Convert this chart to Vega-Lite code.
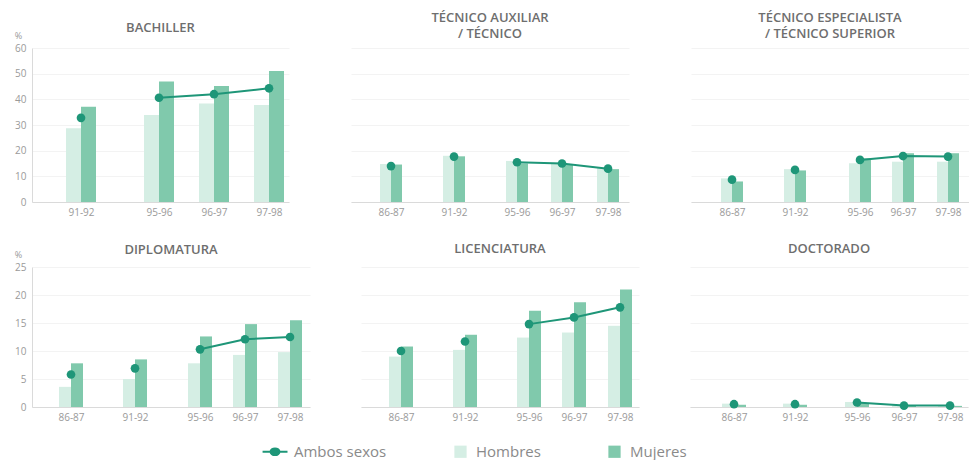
{
  "$schema": "https://vega.github.io/schema/vega-lite/v6.json",
  "autosize": {"type": "pad"},
  "padding": {"left": 14, "top": 12, "right": 0, "bottom": 0},
  "background": "white",
  "config": {
    "view": {"stroke": null},
    "font": "Open Sans",
    "title": {"font": "Open Sans", "fontSize": 13, "fontWeight": 600, "color": "#6e6e6e", "lineHeight": 16, "anchor": "middle"},
    "axis": {"labelFont": "Open Sans", "labelColor": "#9a9a9a", "labelFontSize": 10, "domainColor": "#dadada", "ticks": false, "gridColor": "#f3f3f3", "titleFont": "Open Sans"},
    "legend": {"labelFont": "Open Sans"}
  },
  "data": {"values": [
    {"nivel": "BACHILLER", "curso": "91-92", "inicio": 1991, "serie": "Hombres", "valor": 28.7},
    {"nivel": "BACHILLER", "curso": "91-92", "inicio": 1991, "serie": "Mujeres", "valor": 37.1},
    {"nivel": "BACHILLER", "curso": "91-92", "inicio": 1991, "serie": "Ambos sexos", "valor": 32.8},
    {"nivel": "BACHILLER", "curso": "95-96", "inicio": 1995, "serie": "Hombres", "valor": 33.9},
    {"nivel": "BACHILLER", "curso": "95-96", "inicio": 1995, "serie": "Mujeres", "valor": 46.9},
    {"nivel": "BACHILLER", "curso": "95-96", "inicio": 1995, "serie": "Ambos sexos", "valor": 40.6},
    {"nivel": "BACHILLER", "curso": "96-97", "inicio": 1996, "serie": "Hombres", "valor": 38.4},
    {"nivel": "BACHILLER", "curso": "96-97", "inicio": 1996, "serie": "Mujeres", "valor": 45.2},
    {"nivel": "BACHILLER", "curso": "96-97", "inicio": 1996, "serie": "Ambos sexos", "valor": 42.0},
    {"nivel": "BACHILLER", "curso": "97-98", "inicio": 1997, "serie": "Hombres", "valor": 37.8},
    {"nivel": "BACHILLER", "curso": "97-98", "inicio": 1997, "serie": "Mujeres", "valor": 51.0},
    {"nivel": "BACHILLER", "curso": "97-98", "inicio": 1997, "serie": "Ambos sexos", "valor": 44.3},

    {"nivel": "AUXILIAR", "curso": "86-87", "inicio": 1986, "serie": "Hombres", "valor": 14.8},
    {"nivel": "AUXILIAR", "curso": "86-87", "inicio": 1986, "serie": "Mujeres", "valor": 14.6},
    {"nivel": "AUXILIAR", "curso": "86-87", "inicio": 1986, "serie": "Ambos sexos", "valor": 14.0},
    {"nivel": "AUXILIAR", "curso": "91-92", "inicio": 1991, "serie": "Hombres", "valor": 18.0},
    {"nivel": "AUXILIAR", "curso": "91-92", "inicio": 1991, "serie": "Mujeres", "valor": 17.8},
    {"nivel": "AUXILIAR", "curso": "91-92", "inicio": 1991, "serie": "Ambos sexos", "valor": 17.7},
    {"nivel": "AUXILIAR", "curso": "95-96", "inicio": 1995, "serie": "Hombres", "valor": 16.0},
    {"nivel": "AUXILIAR", "curso": "95-96", "inicio": 1995, "serie": "Mujeres", "valor": 15.0},
    {"nivel": "AUXILIAR", "curso": "95-96", "inicio": 1995, "serie": "Ambos sexos", "valor": 15.5},
    {"nivel": "AUXILIAR", "curso": "96-97", "inicio": 1996, "serie": "Hombres", "valor": 15.3},
    {"nivel": "AUXILIAR", "curso": "96-97", "inicio": 1996, "serie": "Mujeres", "valor": 14.6},
    {"nivel": "AUXILIAR", "curso": "96-97", "inicio": 1996, "serie": "Ambos sexos", "valor": 15.0},
    {"nivel": "AUXILIAR", "curso": "97-98", "inicio": 1997, "serie": "Hombres", "valor": 13.2},
    {"nivel": "AUXILIAR", "curso": "97-98", "inicio": 1997, "serie": "Mujeres", "valor": 12.8},
    {"nivel": "AUXILIAR", "curso": "97-98", "inicio": 1997, "serie": "Ambos sexos", "valor": 13.0},

    {"nivel": "ESPECIALISTA", "curso": "86-87", "inicio": 1986, "serie": "Hombres", "valor": 9.2},
    {"nivel": "ESPECIALISTA", "curso": "86-87", "inicio": 1986, "serie": "Mujeres", "valor": 8.0},
    {"nivel": "ESPECIALISTA", "curso": "86-87", "inicio": 1986, "serie": "Ambos sexos", "valor": 8.7},
    {"nivel": "ESPECIALISTA", "curso": "91-92", "inicio": 1991, "serie": "Hombres", "valor": 12.8},
    {"nivel": "ESPECIALISTA", "curso": "91-92", "inicio": 1991, "serie": "Mujeres", "valor": 12.3},
    {"nivel": "ESPECIALISTA", "curso": "91-92", "inicio": 1991, "serie": "Ambos sexos", "valor": 12.5},
    {"nivel": "ESPECIALISTA", "curso": "95-96", "inicio": 1995, "serie": "Hombres", "valor": 15.1},
    {"nivel": "ESPECIALISTA", "curso": "95-96", "inicio": 1995, "serie": "Mujeres", "valor": 17.0},
    {"nivel": "ESPECIALISTA", "curso": "95-96", "inicio": 1995, "serie": "Ambos sexos", "valor": 16.4},
    {"nivel": "ESPECIALISTA", "curso": "96-97", "inicio": 1996, "serie": "Hombres", "valor": 15.7},
    {"nivel": "ESPECIALISTA", "curso": "96-97", "inicio": 1996, "serie": "Mujeres", "valor": 19.0},
    {"nivel": "ESPECIALISTA", "curso": "96-97", "inicio": 1996, "serie": "Ambos sexos", "valor": 17.9},
    {"nivel": "ESPECIALISTA", "curso": "97-98", "inicio": 1997, "serie": "Hombres", "valor": 15.7},
    {"nivel": "ESPECIALISTA", "curso": "97-98", "inicio": 1997, "serie": "Mujeres", "valor": 19.0},
    {"nivel": "ESPECIALISTA", "curso": "97-98", "inicio": 1997, "serie": "Ambos sexos", "valor": 17.7},

    {"nivel": "DIPLOMATURA", "curso": "86-87", "inicio": 1986, "serie": "Hombres", "valor": 3.6},
    {"nivel": "DIPLOMATURA", "curso": "86-87", "inicio": 1986, "serie": "Mujeres", "valor": 7.8},
    {"nivel": "DIPLOMATURA", "curso": "86-87", "inicio": 1986, "serie": "Ambos sexos", "valor": 5.8},
    {"nivel": "DIPLOMATURA", "curso": "91-92", "inicio": 1991, "serie": "Hombres", "valor": 5.0},
    {"nivel": "DIPLOMATURA", "curso": "91-92", "inicio": 1991, "serie": "Mujeres", "valor": 8.5},
    {"nivel": "DIPLOMATURA", "curso": "91-92", "inicio": 1991, "serie": "Ambos sexos", "valor": 6.9},
    {"nivel": "DIPLOMATURA", "curso": "95-96", "inicio": 1995, "serie": "Hombres", "valor": 7.8},
    {"nivel": "DIPLOMATURA", "curso": "95-96", "inicio": 1995, "serie": "Mujeres", "valor": 12.6},
    {"nivel": "DIPLOMATURA", "curso": "95-96", "inicio": 1995, "serie": "Ambos sexos", "valor": 10.3},
    {"nivel": "DIPLOMATURA", "curso": "96-97", "inicio": 1996, "serie": "Hombres", "valor": 9.3},
    {"nivel": "DIPLOMATURA", "curso": "96-97", "inicio": 1996, "serie": "Mujeres", "valor": 14.8},
    {"nivel": "DIPLOMATURA", "curso": "96-97", "inicio": 1996, "serie": "Ambos sexos", "valor": 12.1},
    {"nivel": "DIPLOMATURA", "curso": "97-98", "inicio": 1997, "serie": "Hombres", "valor": 9.8},
    {"nivel": "DIPLOMATURA", "curso": "97-98", "inicio": 1997, "serie": "Mujeres", "valor": 15.5},
    {"nivel": "DIPLOMATURA", "curso": "97-98", "inicio": 1997, "serie": "Ambos sexos", "valor": 12.5},

    {"nivel": "LICENCIATURA", "curso": "86-87", "inicio": 1986, "serie": "Hombres", "valor": 9.0},
    {"nivel": "LICENCIATURA", "curso": "86-87", "inicio": 1986, "serie": "Mujeres", "valor": 10.8},
    {"nivel": "LICENCIATURA", "curso": "86-87", "inicio": 1986, "serie": "Ambos sexos", "valor": 10.0},
    {"nivel": "LICENCIATURA", "curso": "91-92", "inicio": 1991, "serie": "Hombres", "valor": 10.2},
    {"nivel": "LICENCIATURA", "curso": "91-92", "inicio": 1991, "serie": "Mujeres", "valor": 12.9},
    {"nivel": "LICENCIATURA", "curso": "91-92", "inicio": 1991, "serie": "Ambos sexos", "valor": 11.7},
    {"nivel": "LICENCIATURA", "curso": "95-96", "inicio": 1995, "serie": "Hombres", "valor": 12.4},
    {"nivel": "LICENCIATURA", "curso": "95-96", "inicio": 1995, "serie": "Mujeres", "valor": 17.2},
    {"nivel": "LICENCIATURA", "curso": "95-96", "inicio": 1995, "serie": "Ambos sexos", "valor": 14.8},
    {"nivel": "LICENCIATURA", "curso": "96-97", "inicio": 1996, "serie": "Hombres", "valor": 13.3},
    {"nivel": "LICENCIATURA", "curso": "96-97", "inicio": 1996, "serie": "Mujeres", "valor": 18.7},
    {"nivel": "LICENCIATURA", "curso": "96-97", "inicio": 1996, "serie": "Ambos sexos", "valor": 16.0},
    {"nivel": "LICENCIATURA", "curso": "97-98", "inicio": 1997, "serie": "Hombres", "valor": 14.5},
    {"nivel": "LICENCIATURA", "curso": "97-98", "inicio": 1997, "serie": "Mujeres", "valor": 21.0},
    {"nivel": "LICENCIATURA", "curso": "97-98", "inicio": 1997, "serie": "Ambos sexos", "valor": 17.8},

    {"nivel": "DOCTORADO", "curso": "86-87", "inicio": 1986, "serie": "Hombres", "valor": 0.6},
    {"nivel": "DOCTORADO", "curso": "86-87", "inicio": 1986, "serie": "Mujeres", "valor": 0.4},
    {"nivel": "DOCTORADO", "curso": "86-87", "inicio": 1986, "serie": "Ambos sexos", "valor": 0.5},
    {"nivel": "DOCTORADO", "curso": "91-92", "inicio": 1991, "serie": "Hombres", "valor": 0.6},
    {"nivel": "DOCTORADO", "curso": "91-92", "inicio": 1991, "serie": "Mujeres", "valor": 0.4},
    {"nivel": "DOCTORADO", "curso": "91-92", "inicio": 1991, "serie": "Ambos sexos", "valor": 0.5},
    {"nivel": "DOCTORADO", "curso": "95-96", "inicio": 1995, "serie": "Hombres", "valor": 0.9},
    {"nivel": "DOCTORADO", "curso": "95-96", "inicio": 1995, "serie": "Mujeres", "valor": 0.7},
    {"nivel": "DOCTORADO", "curso": "95-96", "inicio": 1995, "serie": "Ambos sexos", "valor": 0.8},
    {"nivel": "DOCTORADO", "curso": "96-97", "inicio": 1996, "serie": "Hombres", "valor": 0.3},
    {"nivel": "DOCTORADO", "curso": "96-97", "inicio": 1996, "serie": "Mujeres", "valor": 0.2},
    {"nivel": "DOCTORADO", "curso": "96-97", "inicio": 1996, "serie": "Ambos sexos", "valor": 0.25},
    {"nivel": "DOCTORADO", "curso": "97-98", "inicio": 1997, "serie": "Hombres", "valor": 0.3},
    {"nivel": "DOCTORADO", "curso": "97-98", "inicio": 1997, "serie": "Mujeres", "valor": 0.2},
    {"nivel": "DOCTORADO", "curso": "97-98", "inicio": 1997, "serie": "Ambos sexos", "valor": 0.25}
  ]},
  "bounds": "full",
  "spacing": 26,
  "vconcat": [
    {
      "bounds": "flush",
      "spacing": 62,
      "hconcat": [
        {
          "transform": [{"filter": "datum.nivel == 'BACHILLER'"}],
          "title": {"text": "BACHILLER", "offset": -4},
          "width": 257, "height": 154,
          "encoding": {
            "x": {"field": "inicio", "type": "quantitative", "scale": {"domain": [1987, 1991, 1995, 1996, 1997, 1998], "range": [0, 49, 127, 182, 237, 257], "nice": false, "zero": false},
                  "axis": {"values": [1991, 1995, 1996, 1997], "labelExpr": "substring(toString(datum.value), 2) + '-' + substring(toString(datum.value + 1), 2)", "grid": false, "title": null, "labelPadding": 5, "labelFlush": false}},
            "y": {"field": "valor", "type": "quantitative", "scale": {"domain": [0, 60], "nice": false},
                  "axis": {"values": [0, 10, 20, 30, 40, 50, 60], "title": "%", "titleAngle": 0, "titleX": -14, "titleY": -8, "titleAlign": "center", "titleBaseline": "bottom", "titleFontSize": 9, "titleColor": "#9a9a9a", "titleFontWeight": "normal", "labelPadding": 6}}
          },
          "layer": [
            {"transform": [{"filter": "datum.serie == 'Hombres'"}], "mark": {"type": "bar", "width": 15, "xOffset": -7.5},
             "encoding": {"color": {"field": "serie", "type": "nominal", "scale": {"domain": ["Ambos sexos", "Hombres", "Mujeres"], "range": ["#1e9678", "#d5eee4", "#80c9ac"]},
               "legend": {"title": null, "orient": "none", "legendX": 239, "legendY": 396, "direction": "horizontal", "columns": 3, "columnPadding": 66, "labelFontSize": 15, "labelColor": "#8a8a8a", "labelOffset": 8, "symbolSize": 150,
                 "encode": {"symbols": {"update": {
                   "shape": {"signal": "datum.value === 'Ambos sexos' ? 'M-2.6,0L1.47,0M-1.3,0A0.73,0.55 0 1,0 0.16,0A0.73,0.55 0 1,0 -1.3,0' : 'square'"},
                   "fill": {"signal": "scale('color', datum.value)"},
                   "stroke": {"signal": "scale('color', datum.value)"},
                   "strokeWidth": {"signal": "datum.value === 'Ambos sexos' ? 2 : 0"},
                   "opacity": {"value": 1}, "fillOpacity": {"value": 1}
                 }}}}}}},
            {"transform": [{"filter": "datum.serie == 'Mujeres'"}], "mark": {"type": "bar", "width": 15, "xOffset": 7.5},
             "encoding": {"color": {"field": "serie", "type": "nominal", "legend": null}}},
            {"transform": [{"filter": "datum.serie == 'Ambos sexos' && datum.inicio >= 1995"}], "mark": {"type": "line", "strokeWidth": 2},
             "encoding": {"color": {"field": "serie", "type": "nominal", "legend": null}}},
            {"transform": [{"filter": "datum.serie == 'Ambos sexos'"}], "mark": {"type": "point", "filled": true, "size": 75, "opacity": 1},
             "encoding": {"color": {"field": "serie", "type": "nominal", "legend": null}}}
          ]
        },
        {
          "transform": [{"filter": "datum.nivel == 'AUXILIAR'"}],
          "title": {"text": ["TÉCNICO AUXILIAR", "/ TÉCNICO"], "offset": 7},
          "width": 278, "height": 154,
          "encoding": {
            "x": {"field": "inicio", "type": "quantitative", "scale": {"domain": [1982, 1986, 1991, 1995, 1996, 1997, 1998], "range": [0, 40, 103, 166, 211, 257, 278], "nice": false, "zero": false},
                  "axis": {"values": [1986, 1991, 1995, 1996, 1997], "labelExpr": "substring(toString(datum.value), 2) + '-' + substring(toString(datum.value + 1), 2)", "grid": false, "title": null, "labelPadding": 5, "labelFlush": false}},
            "y": {"field": "valor", "type": "quantitative", "scale": {"domain": [0, 60], "nice": false},
                  "axis": {"values": [0, 10, 20, 30, 40, 50, 60], "title": null, "labels": false, "domain": false}}
          },
          "layer": [
            {"transform": [{"filter": "datum.serie == 'Hombres'"}], "mark": {"type": "bar", "width": 11, "xOffset": -5.5},
             "encoding": {"color": {"field": "serie", "type": "nominal", "legend": null}}},
            {"transform": [{"filter": "datum.serie == 'Mujeres'"}], "mark": {"type": "bar", "width": 11, "xOffset": 5.5},
             "encoding": {"color": {"field": "serie", "type": "nominal", "legend": null}}},
            {"transform": [{"filter": "datum.serie == 'Ambos sexos' && datum.inicio >= 1995"}], "mark": {"type": "line", "strokeWidth": 2},
             "encoding": {"color": {"field": "serie", "type": "nominal", "legend": null}}},
            {"transform": [{"filter": "datum.serie == 'Ambos sexos'"}], "mark": {"type": "point", "filled": true, "size": 75, "opacity": 1},
             "encoding": {"color": {"field": "serie", "type": "nominal", "legend": null}}}
          ]
        },
        {
          "transform": [{"filter": "datum.nivel == 'ESPECIALISTA'"}],
          "title": {"text": ["TÉCNICO ESPECIALISTA", "/ TÉCNICO SUPERIOR"], "offset": 7},
          "width": 278, "height": 154,
          "encoding": {
            "x": {"field": "inicio", "type": "quantitative", "scale": {"domain": [1982, 1986, 1991, 1995, 1996, 1997, 1998], "range": [0, 41, 104, 169, 212, 257, 278], "nice": false, "zero": false},
                  "axis": {"values": [1986, 1991, 1995, 1996, 1997], "labelExpr": "substring(toString(datum.value), 2) + '-' + substring(toString(datum.value + 1), 2)", "grid": false, "title": null, "labelPadding": 5, "labelFlush": false}},
            "y": {"field": "valor", "type": "quantitative", "scale": {"domain": [0, 60], "nice": false},
                  "axis": {"values": [0, 10, 20, 30, 40, 50, 60], "title": null, "labels": false, "domain": false}}
          },
          "layer": [
            {"transform": [{"filter": "datum.serie == 'Hombres'"}], "mark": {"type": "bar", "width": 11, "xOffset": -5.5},
             "encoding": {"color": {"field": "serie", "type": "nominal", "legend": null}}},
            {"transform": [{"filter": "datum.serie == 'Mujeres'"}], "mark": {"type": "bar", "width": 11, "xOffset": 5.5},
             "encoding": {"color": {"field": "serie", "type": "nominal", "legend": null}}},
            {"transform": [{"filter": "datum.serie == 'Ambos sexos' && datum.inicio >= 1995"}], "mark": {"type": "line", "strokeWidth": 2},
             "encoding": {"color": {"field": "serie", "type": "nominal", "legend": null}}},
            {"transform": [{"filter": "datum.serie == 'Ambos sexos'"}], "mark": {"type": "point", "filled": true, "size": 75, "opacity": 1},
             "encoding": {"color": {"field": "serie", "type": "nominal", "legend": null}}}
          ]
        }
      ]
    },
    {
      "bounds": "flush",
      "spacing": 51,
      "hconcat": [
        {
          "transform": [{"filter": "datum.nivel == 'DIPLOMATURA'"}],
          "title": {"text": "DIPLOMATURA", "offset": -7},
          "width": 278, "height": 140,
          "encoding": {
            "x": {"field": "inicio", "type": "quantitative", "scale": {"domain": [1982, 1986, 1991, 1995, 1996, 1997, 1998], "range": [0, 39, 103, 168, 213, 258, 278], "nice": false, "zero": false},
                  "axis": {"values": [1986, 1991, 1995, 1996, 1997], "labelExpr": "substring(toString(datum.value), 2) + '-' + substring(toString(datum.value + 1), 2)", "grid": false, "title": null, "labelPadding": 5, "labelFlush": false}},
            "y": {"field": "valor", "type": "quantitative", "scale": {"domain": [0, 25], "nice": false},
                  "axis": {"values": [0, 5, 10, 15, 20, 25], "title": "%", "titleAngle": 0, "titleX": -14, "titleY": -8, "titleAlign": "center", "titleBaseline": "bottom", "titleFontSize": 9, "titleColor": "#9a9a9a", "titleFontWeight": "normal", "labelPadding": 6}}
          },
          "layer": [
            {"transform": [{"filter": "datum.serie == 'Hombres'"}], "mark": {"type": "bar", "width": 12, "xOffset": -6},
             "encoding": {"color": {"field": "serie", "type": "nominal", "legend": null}}},
            {"transform": [{"filter": "datum.serie == 'Mujeres'"}], "mark": {"type": "bar", "width": 12, "xOffset": 6},
             "encoding": {"color": {"field": "serie", "type": "nominal", "legend": null}}},
            {"transform": [{"filter": "datum.serie == 'Ambos sexos' && datum.inicio >= 1995"}], "mark": {"type": "line", "strokeWidth": 2},
             "encoding": {"color": {"field": "serie", "type": "nominal", "legend": null}}},
            {"transform": [{"filter": "datum.serie == 'Ambos sexos'"}], "mark": {"type": "point", "filled": true, "size": 75, "opacity": 1},
             "encoding": {"color": {"field": "serie", "type": "nominal", "legend": null}}}
          ]
        },
        {
          "transform": [{"filter": "datum.nivel == 'LICENCIATURA'"}],
          "title": {"text": "LICENCIATURA", "offset": 11},
          "width": 278, "height": 140,
          "encoding": {
            "x": {"field": "inicio", "type": "quantitative", "scale": {"domain": [1982, 1986, 1991, 1995, 1996, 1997, 1998], "range": [0, 40, 104, 168, 213, 259, 278], "nice": false, "zero": false},
                  "axis": {"values": [1986, 1991, 1995, 1996, 1997], "labelExpr": "substring(toString(datum.value), 2) + '-' + substring(toString(datum.value + 1), 2)", "grid": false, "title": null, "labelPadding": 5, "labelFlush": false}},
            "y": {"field": "valor", "type": "quantitative", "scale": {"domain": [0, 25], "nice": false},
                  "axis": {"values": [0, 5, 10, 15, 20, 25], "title": null, "labels": false, "domain": false}}
          },
          "layer": [
            {"transform": [{"filter": "datum.serie == 'Hombres'"}], "mark": {"type": "bar", "width": 12, "xOffset": -6},
             "encoding": {"color": {"field": "serie", "type": "nominal", "legend": null}}},
            {"transform": [{"filter": "datum.serie == 'Mujeres'"}], "mark": {"type": "bar", "width": 12, "xOffset": 6},
             "encoding": {"color": {"field": "serie", "type": "nominal", "legend": null}}},
            {"transform": [{"filter": "datum.serie == 'Ambos sexos' && datum.inicio >= 1995"}], "mark": {"type": "line", "strokeWidth": 2},
             "encoding": {"color": {"field": "serie", "type": "nominal", "legend": null}}},
            {"transform": [{"filter": "datum.serie == 'Ambos sexos'"}], "mark": {"type": "point", "filled": true, "size": 75, "opacity": 1},
             "encoding": {"color": {"field": "serie", "type": "nominal", "legend": null}}}
          ]
        },
        {
          "transform": [{"filter": "datum.nivel == 'DOCTORADO'"}],
          "title": {"text": "DOCTORADO", "offset": 11},
          "width": 278, "height": 140,
          "encoding": {
            "x": {"field": "inicio", "type": "quantitative", "scale": {"domain": [1982, 1986, 1991, 1995, 1996, 1997, 1998], "range": [0, 44, 105, 167, 214, 260, 278], "nice": false, "zero": false},
                  "axis": {"values": [1986, 1991, 1995, 1996, 1997], "labelExpr": "substring(toString(datum.value), 2) + '-' + substring(toString(datum.value + 1), 2)", "grid": false, "title": null, "labelPadding": 5, "labelFlush": false}},
            "y": {"field": "valor", "type": "quantitative", "scale": {"domain": [0, 25], "nice": false},
                  "axis": {"values": [0, 5, 10, 15, 20, 25], "title": null, "labels": false, "domain": false}}
          },
          "layer": [
            {"transform": [{"filter": "datum.serie == 'Hombres'"}], "mark": {"type": "bar", "width": 12, "xOffset": -6},
             "encoding": {"color": {"field": "serie", "type": "nominal", "legend": null}}},
            {"transform": [{"filter": "datum.serie == 'Mujeres'"}], "mark": {"type": "bar", "width": 12, "xOffset": 6},
             "encoding": {"color": {"field": "serie", "type": "nominal", "legend": null}}},
            {"transform": [{"filter": "datum.serie == 'Ambos sexos' && datum.inicio >= 1995"}], "mark": {"type": "line", "strokeWidth": 2},
             "encoding": {"color": {"field": "serie", "type": "nominal", "legend": null}}},
            {"transform": [{"filter": "datum.serie == 'Ambos sexos'"}], "mark": {"type": "point", "filled": true, "size": 75, "opacity": 1},
             "encoding": {"color": {"field": "serie", "type": "nominal", "legend": null}}}
          ]
        }
      ]
    }
  ]
}
